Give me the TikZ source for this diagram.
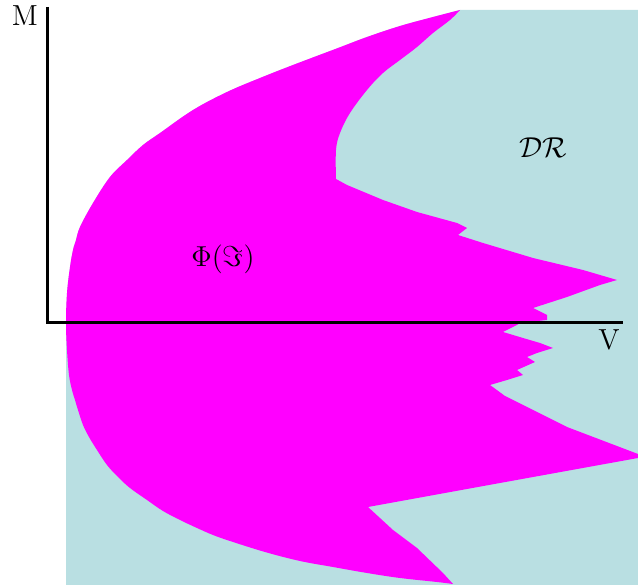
\documentclass[tikz,border=0pt]{standalone}
\usepackage{amsmath}
\definecolor{regionblue}{RGB}{185,223,226}
\definecolor{regionmag}{RGB}{255,0,255}
\begin{document}
\begin{tikzpicture}[x=0.5pt,y=-0.5pt,
  axisline/.style={line width=1.5pt,black},
  lbl/.style={font=\fontsize{14.5}{17}\selectfont,inner sep=0pt},
  bluefill/.style={fill=regionblue,draw=none},
  magfill/.style={fill=regionmag,draw=none}]
\useasboundingbox (0,0) rectangle (638,587);
% blue region DR
\path[bluefill] (460,10) -- (638,10) -- (638,585) -- (66,585) -- (66,323)
  -- plot[smooth,tension=0.6] coordinates {(66,323) (67,293) (70,267) (73,250) (76,240)
     (80,227) (93,203) (110,177) (127,160) (143,145) (160,133) (193,110) (227,92)
     (260,78) (293,65) (338,48) (367,37) (400,26) (433,17) (460,10)}
  -- cycle;
% magenta region Phi(Im)
\path[magfill]
  plot[smooth,tension=0.6] coordinates {(460,10) (433,17) (400,26) (367,37) (338,48)
     (293,65) (260,78) (227,92) (193,110) (160,133) (143,145) (127,160) (110,177)
     (93,203) (80,227) (76,240) (73,250) (70,267) (67,293) (66,323)
     (67,350) (69,375) (72,390) (75,400) (78,410) (83,425) (89,437) (97,450)
     (107,465) (118,477) (130,488) (147,500) (163,511) (180,520) (197,528)
     (213,535) (230,541) (265,552) (300,561) (333,567) (367,573) (400,578)
     (437,582) (453,584)}
  -- (443,573) -- (417,548) -- (393,530) -- (368,507)
  -- (500,483) -- (638,458) -- (638,454) -- (567,427) -- (505,396) -- (490,385)
  -- (507,380) -- (523,375) -- (517,370) -- (535,362) -- (527,357) -- (537,353)
  -- (553,348) -- (540,343) -- (523,338) -- (503,332) -- (517,325) -- (520,323)
  -- (547,320) -- (547,315) -- (533,308) -- (567,297) -- (600,285) -- (617,280)
  -- (583,270) -- (533,258) -- (483,243) -- (458,235) -- (467,228) -- (457,223)
  -- (417,212) -- (383,200) -- (347,185) -- (336,179)
  -- plot[smooth,tension=0.6] coordinates {(336,179) (336,150) (340,133) (350,113)
     (367,90) (383,73) (400,60) (417,47) (433,33) (450,20) (460,10)}
  -- cycle;
% axes
\coordinate (O) at (47,323);
\coordinate (ytop) at (47,7);
\coordinate (xend) at (623,323);
\draw[axisline] (ytop) -- (O) -- (xend);
% labels
\node[lbl] (lm) at (25,16) {M};
\node[lbl] (lv) at (609,340) {V};
\node[lbl] (lphi) at (223,259) {$\Phi(\Im)$};
\node[lbl] (ldr) at (543,148) {$\mathcal{DR}$};
\end{tikzpicture}
\end{document}
